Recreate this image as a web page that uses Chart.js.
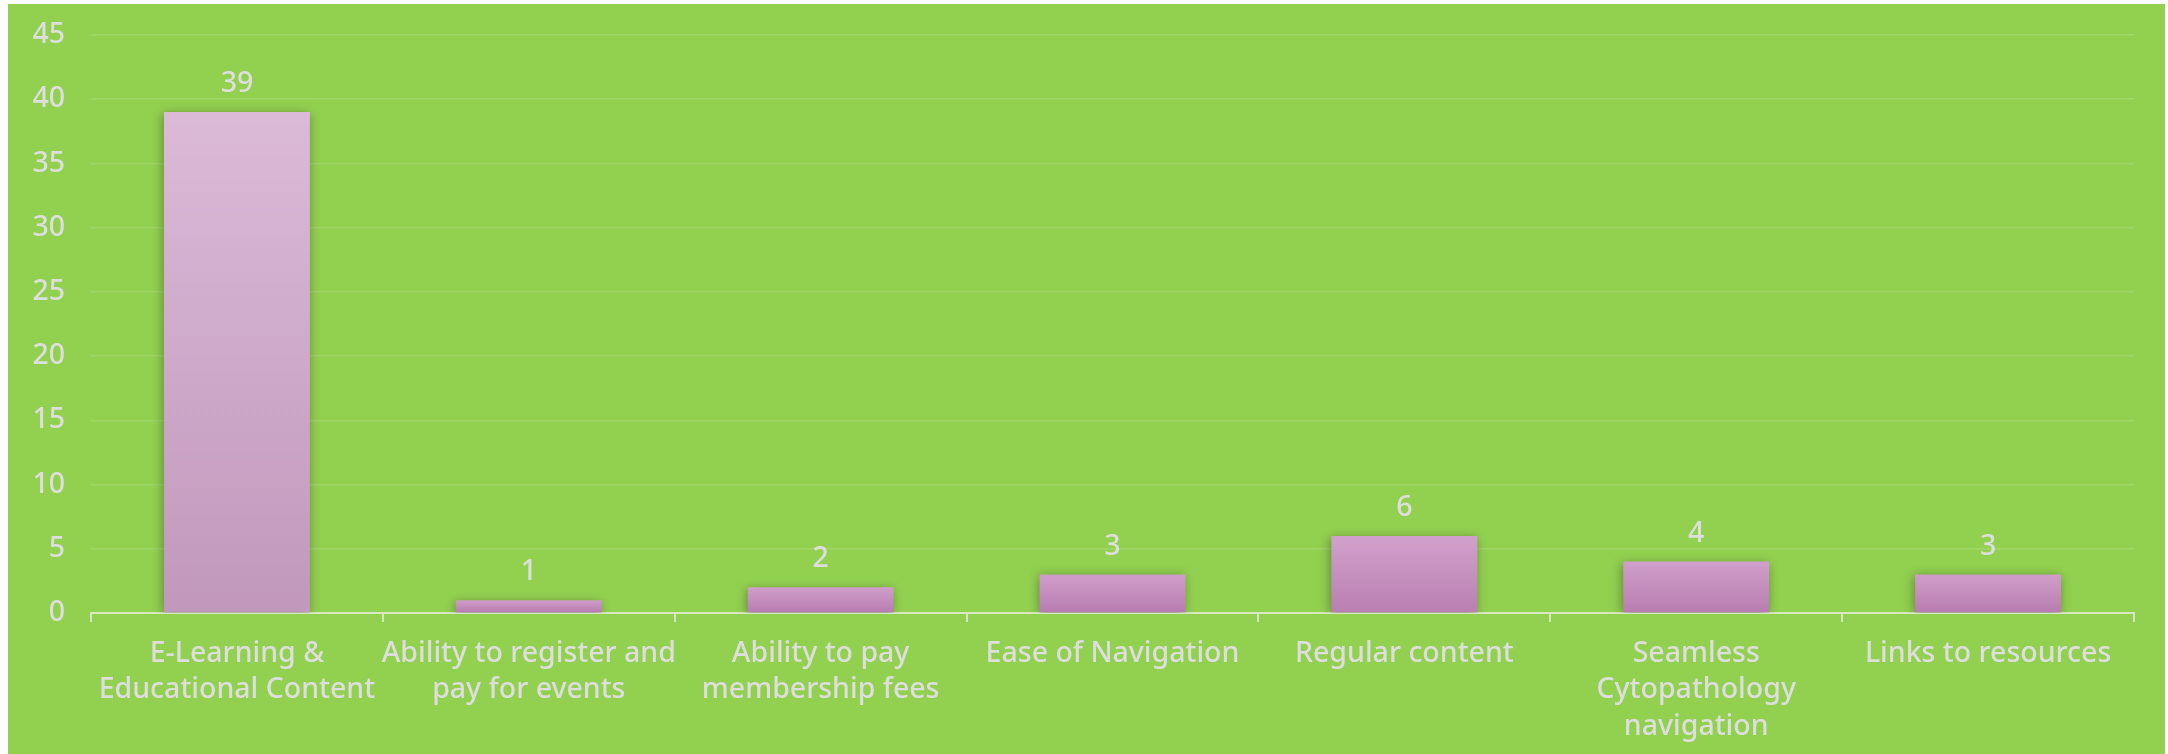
<!DOCTYPE html>
<html>
<head>
<meta charset="utf-8">
<script src="https://cdn.jsdelivr.net/npm/chart.js@4"></script>
<style>
  html, body { margin: 0; padding: 0; background: #ffffff; }
  #wrap { position: absolute; left: 8px; top: 4px; width: 2157px; height: 750px; background: #92d050; }
</style>
</head>
<body>
<div id="wrap"><canvas id="grafico"></canvas></div>
<script>
const categorias = [
  ['E-Learning &', 'Educational Content'],
  ['Ability to register and', 'pay for events'],
  ['Ability to pay', 'membership fees'],
  'Ease of Navigation',
  'Regular content',
  ['Seamless', 'Cytopathology', 'navigation'],
  'Links to resources'
];
const valores = [39, 1, 2, 3, 6, 4, 3];
const yMax = 45;
const yPaso = 5;

const textColor = '#dedede';
const familia = "'Noto Sans', 'Liberation Sans', sans-serif";
const peso = '500';
const fuente = { family: familia, size: 28.5, weight: peso, lineHeight: 1.27 };

// mezcla dos colores hex segun t (0..1)
function mezcla(a, b, t) {
  const pa = [1, 3, 5].map(i => parseInt(a.substr(i, 2), 16));
  const pb = [1, 3, 5].map(i => parseInt(b.substr(i, 2), 16));
  const c = pa.map((v, i) => Math.round(v + (pb[i] - v) * t));
  return 'rgb(' + c.join(',') + ')';
}

function relleno(context) {
  const chart = context.chart;
  const { chartArea, scales } = chart;
  if (!chartArea || context.raw === undefined) return '#cc99c6';
  const v = context.raw;
  const t = Math.min(1, (v / yMax) * 1.15);
  const top = mezcla('#cf9cc9', '#dbbad7', t);
  const bottom = mezcla('#b77aaf', '#c198bc', t);
  const y0 = scales.y.getPixelForValue(0);
  const y1 = scales.y.getPixelForValue(v);
  const g = chart.ctx.createLinearGradient(0, y1, 0, y0);
  g.addColorStop(0, top);
  g.addColorStop(1, bottom);
  return g;
}

const sombraYEtiquetas = {
  id: 'sombraYEtiquetas',
  beforeDatasetsDraw(chart) {
    const ctx = chart.ctx;
    ctx.save();
    ctx.shadowColor = 'rgba(0,0,0,0.35)';
    ctx.shadowBlur = 10;
    ctx.shadowOffsetX = -1;
    ctx.shadowOffsetY = 2;
  },
  afterDatasetsDraw(chart) {
    const ctx = chart.ctx;
    ctx.restore();
    ctx.save();
    ctx.fillStyle = textColor;
    ctx.font = peso + ' ' + fuente.size + 'px ' + familia;
    ctx.textAlign = 'center';
    ctx.textBaseline = 'middle';
    chart.getDatasetMeta(0).data.forEach((bar, i) => {
      ctx.fillText(String(valores[i]), bar.x, bar.y - 28);
    });
    ctx.restore();
  }
};

const ctx = document.getElementById('grafico');

new Chart(ctx, {
  type: 'bar',
  data: {
    labels: categorias,
    datasets: [{
      data: valores,
      backgroundColor: relleno,
      borderWidth: 0,
      categoryPercentage: 0.5,
      barPercentage: 1
    }]
  },
  options: {
    responsive: true,
    maintainAspectRatio: false,
    animation: false,
    layout: { padding: { top: 31, right: 31, left: 0, bottom: 0 } },
    plugins: {
      legend: { display: false },
      tooltip: { enabled: false }
    },
    scales: {
      x: {
        z: 1,
        grid: {
          offset: true,
          drawOnChartArea: false,
          drawTicks: true,
          tickLength: 9,
          color: 'rgba(225,235,210,0.85)',
          lineWidth: 2
        },
        border: { display: true, color: 'rgba(225,235,210,0.85)', width: 2 },
        ticks: {
          color: textColor,
          font: fuente,
          padding: 14,
          maxRotation: 0,
          autoSkip: false
        },
        afterFit(scale) { scale.height = 141; }
      },
      y: {
        min: 0,
        max: yMax,
        grid: {
          color: 'rgba(255,255,255,0.13)',
          lineWidth: 1.5,
          drawTicks: false
        },
        border: { display: false },
        ticks: {
          stepSize: yPaso,
          color: textColor,
          font: { family: familia, size: 28.5, weight: peso, lineHeight: 1 },
          padding: 26
        },
        afterFit(scale) {
          scale.width = 83;
          scale.paddingTop = 0;
          scale.paddingBottom = 0;
        }
      }
    }
  },
  plugins: [sombraYEtiquetas]
});
</script>
</body>
</html>
